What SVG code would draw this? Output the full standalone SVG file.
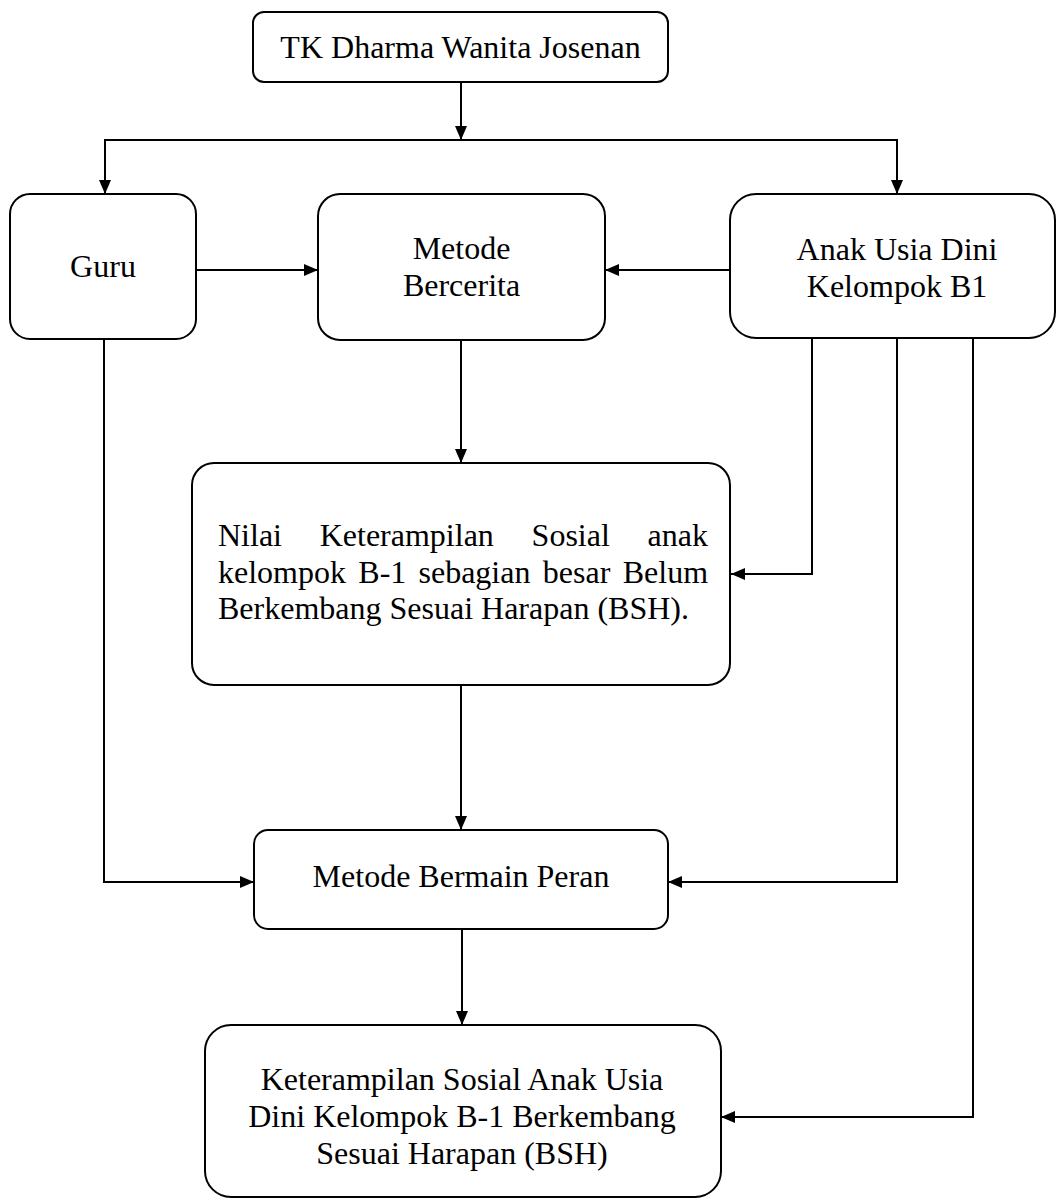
<svg xmlns="http://www.w3.org/2000/svg" width="1057" height="1202" viewBox="0 0 1057 1202">
<style>
.box{fill:#fff;stroke:#000;stroke-width:2}
.t{font-family:"Liberation Serif","Times New Roman",serif;font-size:32px;fill:#000}
.c{text-anchor:middle}
.ln{fill:none;stroke:#000;stroke-width:2}
</style>
<defs>
<marker id="ah" markerUnits="userSpaceOnUse" markerWidth="14" markerHeight="12" refX="14" refY="6" orient="auto">
<path d="M0,0 L14,6 L0,12 z" fill="#000"/>
</marker>
</defs>
<rect width="1057" height="1202" fill="#fff"/>
<g id="connectors">
<line class="ln" x1="461" y1="82" x2="461" y2="140" marker-end="url(#ah)"/>
<line class="ln" x1="104" y1="140" x2="898" y2="140"/>
<line class="ln" x1="105" y1="140" x2="105" y2="194" marker-end="url(#ah)"/>
<line class="ln" x1="897" y1="140" x2="897" y2="194" marker-end="url(#ah)"/>
<line class="ln" x1="196" y1="270" x2="318" y2="270" marker-end="url(#ah)"/>
<line class="ln" x1="730" y1="270" x2="605" y2="270" marker-end="url(#ah)"/>
<line class="ln" x1="461" y1="340" x2="461" y2="463" marker-end="url(#ah)"/>
<polyline class="ln" points="812,338 812,574 731,574" marker-end="url(#ah)"/>
<polyline class="ln" points="897,338 897,882 668,882" marker-end="url(#ah)"/>
<polyline class="ln" points="973,338 973,1117 721,1117" marker-end="url(#ah)"/>
<polyline class="ln" points="104,339 104,882 254,882" marker-end="url(#ah)"/>
<line class="ln" x1="461" y1="685" x2="461" y2="830" marker-end="url(#ah)"/>
<line class="ln" x1="462" y1="929" x2="462" y2="1025" marker-end="url(#ah)"/>
</g>
<g id="node-tk">
<rect class="box" x="253" y="12" width="415" height="70" rx="11"/>
<text class="t c" x="460.5" y="57.5">TK Dharma Wanita Josenan</text>
</g>
<g id="node-guru">
<rect class="box" x="10" y="194" width="186" height="145" rx="20"/>
<text class="t c" x="103" y="277">Guru</text>
</g>
<g id="node-bercerita">
<rect class="box" x="318" y="194" width="287" height="146" rx="22"/>
<text class="t c" x="461.5" y="259">Metode</text>
<text class="t c" x="461.5" y="296">Bercerita</text>
</g>
<g id="node-anak">
<rect class="box" x="730" y="194" width="325" height="144" rx="26"/>
<text class="t c" x="897" y="260">Anak Usia Dini</text>
<text class="t c" x="897" y="297">Kelompok B1</text>
</g>
<g id="node-nilai">
<rect class="box" x="192" y="463" width="538" height="222" rx="22"/>
<text class="t" y="546"><tspan x="218">Nilai</tspan><tspan x="319.7">Keterampilan</tspan><tspan x="531.6">Sosial</tspan><tspan x="647.6">anak</tspan></text>
<text class="t" y="582.5"><tspan x="218">kelompok</tspan><tspan x="358.3">B-1</tspan><tspan x="418.5">sebagian</tspan><tspan x="542.8">besar</tspan><tspan x="622.7">Belum</tspan></text>
<text class="t" x="218" y="619">Berkembang Sesuai Harapan (BSH).</text>
</g>
<g id="node-bermain">
<rect class="box" x="254" y="830" width="414" height="99" rx="14"/>
<text class="t c" x="461" y="887">Metode Bermain Peran</text>
</g>
<g id="node-hasil">
<rect class="box" x="205" y="1025" width="516" height="172" rx="26"/>
<text class="t c" x="462" y="1090">Keterampilan Sosial Anak Usia</text>
<text class="t c" x="462" y="1127">Dini Kelompok B-1 Berkembang</text>
<text class="t c" x="462" y="1164">Sesuai Harapan (BSH)</text>
</g>
</svg>
